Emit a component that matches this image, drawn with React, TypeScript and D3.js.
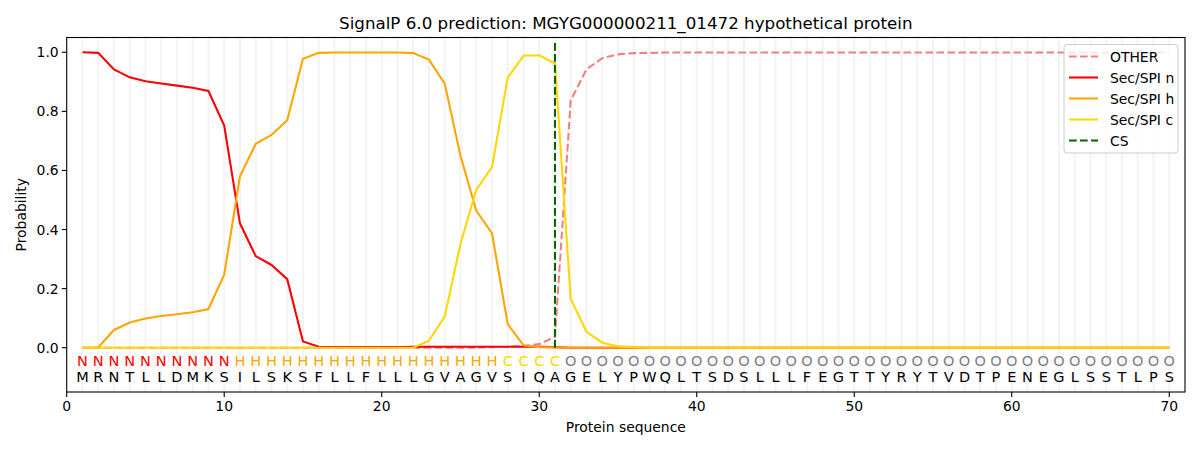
import * as d3 from 'd3';

const title = 'SignalP 6.0 prediction: MGYG000000211_01472 hypothetical protein';
const sequence = 'MRNTLLDMKSILSKSFLLFLLLGVAGVSIQAGELYPWQLTSDSLLLFEGTTYRYTVDTPENEGLSSTLPS'.split('');
const regionLabels = 'NNNNNNNNNNHHHHHHHHHHHHHHHHHCCCCOOOOOOOOOOOOOOOOOOOOOOOOOOOOOOOOOOOOOOO'.split('');

const otherProb = [
  0, 0, 0, 0, 0, 0, 0, 0, 0, 0,
  0, 0, 0, 0, 0, 0, 0, 0, 0, 0,
  0, 0, 0, 0, 0, 0, 0.002, 0.003, 0.006, 0.012,
  0.037, 0.837, 0.942, 0.98, 0.993, 0.997, 0.998, 0.999, 0.999, 0.999,
  0.999, 0.999, 0.999, 0.999, 0.999, 0.999, 0.999, 0.999, 0.999, 0.999,
  0.999, 0.999, 0.999, 0.999, 0.999, 0.999, 0.999, 0.999, 0.999, 0.999,
  0.999, 0.999, 0.999, 0.999, 0.999, 0.999, 0.999, 0.999, 0.999, 0.999,
];
const nProb = [
  1.0, 0.998, 0.942, 0.915, 0.902, 0.894, 0.887, 0.88, 0.869, 0.752,
  0.421, 0.31, 0.28, 0.232, 0.021, 0.003, 0.002, 0.002, 0.002, 0.002,
  0.002, 0.003, 0.003, 0.003, 0.003, 0.003, 0.003, 0.003, 0.003, 0.003,
  0.002, 0, 0, 0, 0, 0, 0, 0, 0, 0,
  0, 0, 0, 0, 0, 0, 0, 0, 0, 0,
  0, 0, 0, 0, 0, 0, 0, 0, 0, 0,
  0, 0, 0, 0, 0, 0, 0, 0, 0, 0,
];
const hProb = [
  0, 0.001, 0.06, 0.085, 0.099, 0.107, 0.113, 0.12, 0.131, 0.247,
  0.58, 0.69, 0.72, 0.77, 0.978, 0.998, 0.999, 0.999, 0.999, 0.999,
  0.999, 0.997, 0.975, 0.894, 0.65, 0.464, 0.388, 0.08, 0.008, 0.002,
  0.001, 0, 0, 0, 0, 0, 0, 0, 0, 0,
  0, 0, 0, 0, 0, 0, 0, 0, 0, 0,
  0, 0, 0, 0, 0, 0, 0, 0, 0, 0,
  0, 0, 0, 0, 0, 0, 0, 0, 0, 0,
];
const cProb = [
  0, 0, 0, 0, 0, 0, 0, 0, 0, 0,
  0, 0, 0, 0, 0, 0, 0, 0, 0, 0,
  0, 0, 0.024, 0.105, 0.351, 0.534, 0.611, 0.914, 0.988, 0.99,
  0.962, 0.165, 0.054, 0.017, 0.005, 0.002, 0, 0, 0, 0,
  0, 0, 0, 0, 0, 0, 0, 0, 0, 0,
  0, 0, 0, 0, 0, 0, 0, 0, 0, 0,
  0, 0, 0, 0, 0, 0, 0, 0, 0, 0,
];
const cleavageSite = 31;
const xTicks = [0, 10, 20, 30, 40, 50, 60, 70];
const yTicks = [0, 0.2, 0.4, 0.6, 0.8, 1.0];

const dashed = '7.7,3.3';
const series = [
  { name: 'OTHER', values: otherProb, color: '#f08080', dash: dashed },
  { name: 'Sec/SPI n', values: nProb, color: '#ff0000', dash: null },
  { name: 'Sec/SPI h', values: hProb, color: '#ffa500', dash: null },
  { name: 'Sec/SPI c', values: cProb, color: '#ffd700', dash: null },
];

const labelColor: Record<string, string> = { N: '#ff0000', H: '#ffa500', C: '#ffd700', O: '#808080' };

const W = 1200;
const H = 450;
const margin = { left: 66.7, right: 15, top: 37.5, bottom: 58 };
const font = '"DejaVu Sans", sans-serif';
const lw = 2.08;
const fs = 13.9;

export default function App() {
  const x = d3.scaleLinear().domain([0, 71]).range([margin.left, W - margin.right]);
  const y = d3.scaleLinear().domain([-0.15, 1.05]).range([H - margin.bottom, margin.top]);
  const positions = sequence.map((_, i) => i + 1);

  const line = d3.line<number>()
    .x((_, i) => x(i + 1))
    .y(d => y(d));

  const x0 = margin.left;
  const x1 = W - margin.right;
  const y0 = H - margin.bottom;
  const y1 = margin.top;

  const legendItems = [
    ...series.map(s => ({ name: s.name, color: s.color, dash: s.dash })),
    { name: 'CS', color: '#006400', dash: dashed },
  ];

  return (
    <div style={{ position: 'fixed', left: 0, top: 0 }}>
      <svg width={W} height={H} style={{ display: 'block', background: '#fff' }} fontFamily={font}>
        <defs>
          <clipPath id="plot">
            <rect x={x0} y={y1} width={x1 - x0} height={y0 - y1} />
          </clipPath>
        </defs>

        {/* vertical grid at each residue */}
        {positions.map(p => (
          <line key={p} x1={x(p)} x2={x(p)} y1={y1} y2={y0} stroke="#f3f3f3" strokeWidth={2} />
        ))}

        <g clipPath="url(#plot)">
          {series.map(s => (
            <path key={s.name} d={line(s.values) ?? ''} fill="none" stroke={s.color}
              strokeWidth={lw} strokeDasharray={s.dash ?? undefined} />
          ))}
          <line x1={x(cleavageSite)} x2={x(cleavageSite)} y1={y(0)} y2={y(1.035)}
            stroke="#006400" strokeWidth={lw} strokeDasharray={dashed} />
        </g>

        {/* residue annotations */}
        {regionLabels.map((l, i) => (
          <text key={'r' + i} x={x(i + 1)} y={366} textAnchor="middle" fontSize={14.5} fill={labelColor[l]}>{l}</text>
        ))}
        {sequence.map((aa, i) => (
          <text key={'a' + i} x={x(i + 1)} y={382} textAnchor="middle" fontSize={14.5} fill="#000">{aa}</text>
        ))}

        {/* axes frame */}
        <rect x={x0} y={y1} width={x1 - x0} height={y0 - y1} fill="none" stroke="#000" strokeWidth={1.1} />

        {xTicks.map(t => (
          <g key={'x' + t}>
            <line x1={x(t)} x2={x(t)} y1={y0} y2={y0 + 4.9} stroke="#000" strokeWidth={1.1} />
            <text x={x(t)} y={y0 + 19} textAnchor="middle" fontSize={fs}>{t}</text>
          </g>
        ))}
        {yTicks.map(t => (
          <g key={'y' + t}>
            <line x1={x0 - 4.9} x2={x0} y1={y(t)} y2={y(t)} stroke="#000" strokeWidth={1.1} />
            <text x={x0 - 8} y={y(t) + 5} textAnchor="end" fontSize={fs}>{t.toFixed(1)}</text>
          </g>
        ))}

        <text x={(x0 + x1) / 2} y={432} textAnchor="middle" fontSize={fs}>Protein sequence</text>
        <text transform={`translate(26,${(y0 + y1) / 2}) rotate(-90)`} textAnchor="middle" fontSize={fs}>Probability</text>
        <text x={(x0 + x1) / 2} y={29} textAnchor="middle" fontSize={16.7}>{title}</text>

        {/* legend */}
        <g>
          <rect x={1064} y={44.5} width={114} height={108.5} rx={3} fill="#fff" fillOpacity={0.8} stroke="#cccccc" />
          {legendItems.map((it, i) => {
            const ly = 56.5 + i * 21;
            return (
              <g key={it.name}>
                <line x1={1069} x2={1098} y1={ly} y2={ly} stroke={it.color} strokeWidth={lw}
                  strokeDasharray={it.dash ?? undefined} />
                <text x={1110} y={ly + 5} fontSize={fs}>{it.name}</text>
              </g>
            );
          })}
        </g>
      </svg>
    </div>
  );
}
